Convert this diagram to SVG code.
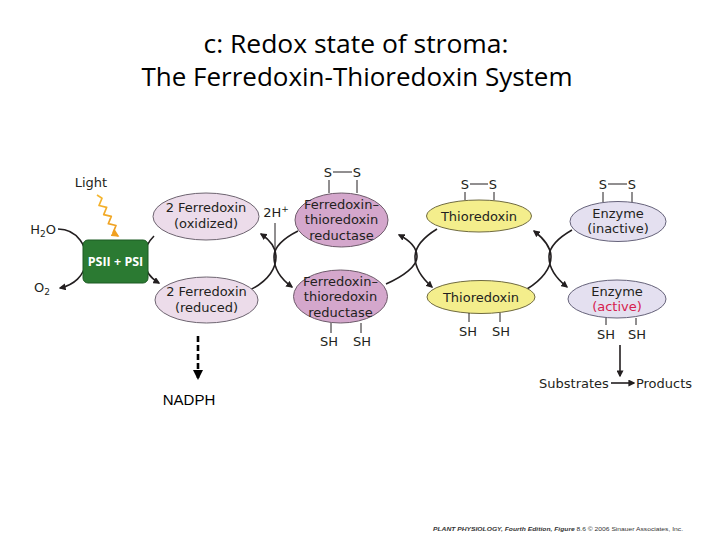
<svg xmlns="http://www.w3.org/2000/svg" width="720" height="540" viewBox="0 0 720 540">
<style>
.t{font-family:"DejaVu Sans",sans-serif;font-size:13px;fill:#231f20;text-anchor:middle}
.title{font-family:"Open Sans","Noto Sans",sans-serif;font-size:25px;fill:#000;text-anchor:middle}
.arc{fill:none;stroke:#231f20;stroke-width:1.6}
.thin{fill:none;stroke:#231f20;stroke-width:1}
.fd{fill:#ecdcea;stroke:#6d6470;stroke-width:1}
.ftr{fill:#d4a7cc;stroke:#6d5a6a;stroke-width:1}
.trx{fill:#f4ee8c;stroke:#6f6a40;stroke-width:1}
.enz{fill:#e4e0f0;stroke:#66637a;stroke-width:1}
</style>
<defs>
<marker id="ah" viewBox="0 0 10 10" refX="8" refY="5" markerWidth="7" markerHeight="7" orient="auto" markerUnits="userSpaceOnUse">
<path d="M0,0 L10,5 L0,10 z" fill="#231f20"/>
</marker>
<marker id="ahb" viewBox="0 0 10 10" refX="8" refY="5" markerWidth="10" markerHeight="10" orient="auto" markerUnits="userSpaceOnUse">
<path d="M0,0 L10,5 L0,10 z" fill="#000"/>
</marker>
<marker id="aho" viewBox="0 0 10 10" refX="8" refY="5" markerWidth="8" markerHeight="8" orient="auto" markerUnits="userSpaceOnUse">
<path d="M0,0 L10,5 L0,10 z" fill="#f0a020"/>
</marker>
<linearGradient id="lg" x1="0" y1="0" x2="0" y2="1">
<stop offset="0" stop-color="#f5b730"/>
<stop offset="1" stop-color="#ee9a1c"/>
</linearGradient>
</defs>
<rect width="720" height="540" fill="#fff"/>
<g id="title">
<text class="title" x="356" y="53" textLength="305" lengthAdjust="spacingAndGlyphs">c: Redox state of stroma:</text>
<text class="title" x="357" y="86" textLength="431" lengthAdjust="spacingAndGlyphs">The Ferredoxin-Thioredoxin System</text>
</g>
<g id="connectors">
<path class="arc" d="M58,229 C78,229 88,248 86,262 C84,276 74,285 60,288" marker-end="url(#ah)"/>
<path class="arc" d="M154,236 C140,250 140,272 159,283" marker-end="url(#ah)"/>
<path class="arc" d="M250,290 C270,280 276,267 276,257 C276,247 270,240 261,234" marker-end="url(#ah)"/>
<path class="arc" d="M298,231 C282,239 274,248 274,257 C274,268 281,279 292,287" marker-end="url(#ah)"/>
<path class="thin" d="M275,223 V258"/>
<path class="arc" d="M386,284 C404,276 417,266 417,257 C417,247 409,240 399,235" marker-end="url(#ah)"/>
<path class="arc" d="M437,229 C424,237 415,247 415,257 C415,268 423,279 432,287" marker-end="url(#ah)"/>
<path class="arc" d="M527,289 C542,280 551,268 551,257 C551,246 543,238 534,231" marker-end="url(#ah)"/>
<path class="arc" d="M572,230 C558,238 549,247 549,257 C549,268 557,279 567,287" marker-end="url(#ah)"/>
<path class="arc" d="M620,345 V376" marker-end="url(#ah)"/>
<path class="arc" d="M611,383 H634" marker-end="url(#ah)"/>
<path d="M198,336 V378" fill="none" stroke="#000" stroke-width="2.6" stroke-dasharray="6,3" marker-end="url(#ahb)"/>
<polyline points="97,195 102,198.2 99,205.5 106.7,207.3 103.7,214.6 111.3,216.4 108.3,223.7 116,225.5 113,232.9 118,236" fill="none" stroke="url(#lg)" stroke-width="1.7" stroke-linejoin="round" marker-end="url(#aho)"/>
</g>
<g id="light"><text class="t" x="91" y="187">Light</text></g>
<g id="h2o"><text class="t" x="43" y="234">H<tspan font-size="9" dy="3">2</tspan><tspan dy="-3">O</tspan></text></g>
<g id="o2"><text class="t" x="42" y="292">O<tspan font-size="9" dy="3">2</tspan></text></g>
<g id="ps">
<rect x="83" y="240" width="65" height="43" rx="5" fill="#2b7a32" stroke="#1d5a22" stroke-width="1"/>
<text x="115.5" y="266" font-family="Open Sans,Noto Sans,sans-serif" font-size="12.5" font-weight="bold" fill="#fff" text-anchor="middle">PSII + PSI</text>
</g>
<g id="fd-ox">
<ellipse class="fd" cx="206" cy="216.5" rx="53" ry="23.5"/>
<text class="t" x="206" y="212">2 Ferredoxin<tspan x="206" dy="16">(oxidized)</tspan></text>
</g>
<g id="fd-red">
<ellipse class="fd" cx="206.5" cy="300" rx="51.5" ry="23"/>
<text class="t" x="206.5" y="296">2 Ferredoxin<tspan x="206.5" dy="16">(reduced)</tspan></text>
</g>
<g id="h2plus"><text class="t" x="276" y="217">2H<tspan font-size="9" dy="-5">+</tspan></text></g>
<g id="ftr-ox">
<text class="t" x="328" y="177">S</text><text class="t" x="357" y="177">S</text>
<path class="thin" d="M333,172 H352 M329,180 V193 M357,180 V193"/>
<ellipse class="ftr" cx="341.5" cy="220" rx="46.5" ry="27"/>
<text class="t" x="341.5" y="209">Ferredoxin–<tspan x="341.5" dy="15.3">thioredoxin</tspan><tspan x="341.5" dy="15.3">reductase</tspan></text>
</g>
<g id="ftr-red">
<ellipse class="ftr" cx="340.5" cy="296.5" rx="47" ry="26.5"/>
<text class="t" x="340.5" y="286">Ferredoxin–<tspan x="340.5" dy="15.3">thioredoxin</tspan><tspan x="340.5" dy="15.3">reductase</tspan></text>
<path class="thin" d="M331,323 V333 M361,323 V333"/>
<text class="t" x="329" y="346">SH</text><text class="t" x="362" y="346">SH</text>
</g>
<g id="trx-ox">
<text class="t" x="465" y="189">S</text><text class="t" x="493" y="189">S</text>
<path class="thin" d="M470,184 H488 M465,192 V200 M494,192 V200"/>
<ellipse class="trx" cx="479" cy="216" rx="52.5" ry="16"/>
<text class="t" x="479" y="220.5">Thioredoxin</text>
</g>
<g id="trx-red">
<ellipse class="trx" cx="481" cy="297" rx="54" ry="16.5"/>
<text class="t" x="481" y="301.5">Thioredoxin</text>
<path class="thin" d="M469,313 V322 M500,313 V322"/>
<text class="t" x="468" y="336">SH</text><text class="t" x="501" y="336">SH</text>
</g>
<g id="enz-in">
<text class="t" x="603" y="189">S</text><text class="t" x="632" y="189">S</text>
<path class="thin" d="M608,184 H627 M603,192 V202 M632,192 V202"/>
<ellipse class="enz" cx="618" cy="221.5" rx="48" ry="20"/>
<text class="t" x="618" y="218">Enzyme<tspan x="618" dy="15.3">(inactive)</tspan></text>
</g>
<g id="enz-act">
<ellipse class="enz" cx="617" cy="299" rx="49" ry="19"/>
<text class="t" x="617" y="296">Enzyme<tspan x="617" dy="15.3" style="fill:#d6204e">(active)</tspan></text>
<path class="thin" d="M606,318 V325 M636,318 V325"/>
<text class="t" x="606" y="339">SH</text><text class="t" x="637" y="339">SH</text>
</g>
<g id="subprod">
<text class="t" x="574" y="388">Substrates</text>
<text class="t" x="664" y="388">Products</text>
</g>
<g id="nadph"><text x="189" y="405" font-family="Liberation Sans,Arial,sans-serif" font-size="15" fill="#000" text-anchor="middle">NADPH</text></g>
<g id="credit">
<text x="433" y="531" font-family="Liberation Sans,Arial,sans-serif" font-size="6" fill="#333" textLength="250" lengthAdjust="spacingAndGlyphs"><tspan font-weight="bold" font-style="italic">PLANT PHYSIOLOGY, Fourth Edition, Figure</tspan> 8.6  © 2006 Sinauer Associates, Inc.</text>
</g>
</svg>
